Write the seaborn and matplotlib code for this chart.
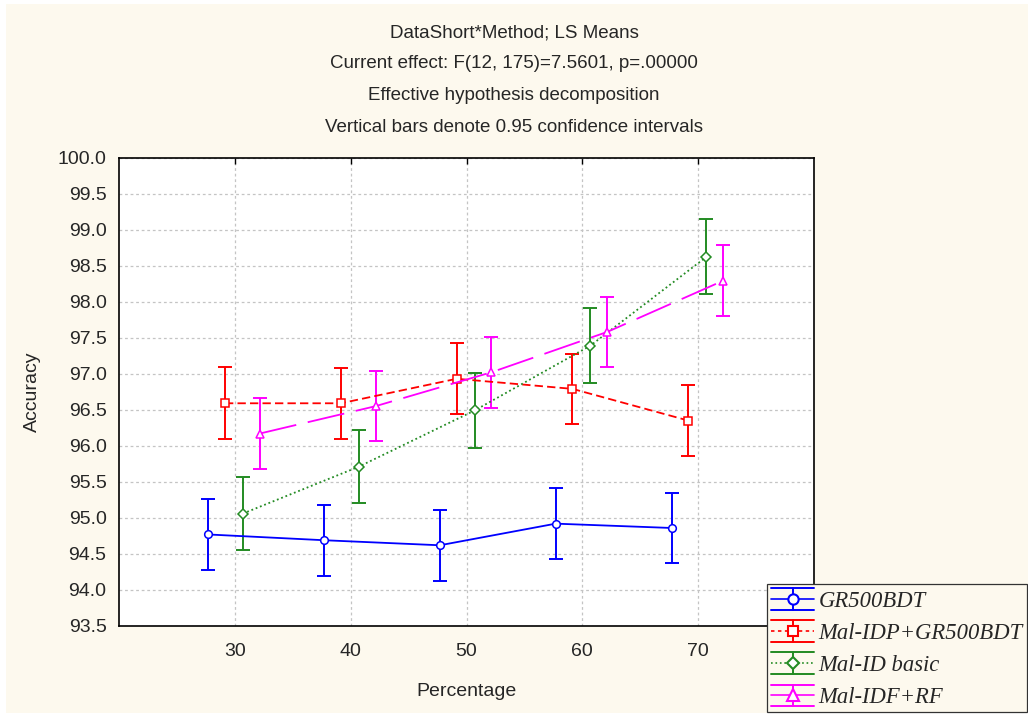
import matplotlib
matplotlib.use("Agg")
import matplotlib.pyplot as plt
import seaborn as sns
import pandas as pd
from matplotlib.patches import Rectangle
from matplotlib.legend_handler import HandlerBase
from matplotlib.lines import Line2D

# ---------------- data ----------------
percentages = [30, 40, 50, 60, 70]
methods = ["GR500BDT", "Mal-IDP+GR500BDT", "Mal-ID basic", "Mal-IDF+RF"]
gr500bdt = [94.77, 94.69, 94.62, 94.92, 94.86]
mal_idp_gr500bdt = [96.59, 96.59, 96.93, 96.79, 96.35]
mal_id_basic = [95.06, 95.71, 96.49, 97.39, 98.62]
mal_idf_rf = [96.17, 96.55, 97.02, 97.58, 98.29]
ci_gr500bdt = [0.49, 0.49, 0.49, 0.49, 0.49]
ci_mal_idp = [0.50, 0.49, 0.49, 0.49, 0.49]
ci_mal_id = [0.51, 0.51, 0.52, 0.52, 0.52]
ci_mal_idf = [0.49, 0.49, 0.49, 0.49, 0.49]
y_ticks = [93.5, 94.0, 94.5, 95.0, 95.5, 96.0, 96.5, 97.0, 97.5, 98.0, 98.5, 99.0, 99.5, 100.0]
title_lines = ["DataShort*Method; LS Means",
               "Current effect: F(12, 175)=7.5601, p=.00000",
               "Effective hypothesis decomposition",
               "Vertical bars denote 0.95 confidence intervals"]

# ---------------- style ----------------
series_vals = [gr500bdt, mal_idp_gr500bdt, mal_id_basic, mal_idf_rf]
series_ci = [ci_gr500bdt, ci_mal_idp, ci_mal_id, ci_mal_idf]
colors = ["#0000FF", "#FF0000", "#238B23", "#FF00FF"]
dodge = [-2.3, -0.85, 0.7, 2.15]
linestyles = ["-", (0, (6, 3)), (0, (1.3, 2.0)), (0, (27, 8.5))]
legend_ls = ["-", (0, (2.5, 2.5)), (0, (1.2, 2.0)), "-"]
markers = ["o", "s", "D", "^"]
msizes = [5.5, 5.2, 4.8, 6.2]

plt.rcParams["lines.scale_dashes"] = False
sns.set_style("white")
plt.rcParams["font.family"] = ["Liberation Sans", "DejaVu Sans"]

W, H = 1028, 715
fig = plt.figure(figsize=(W / 100, H / 100), dpi=100, facecolor="white")
cream = "#FDF9EE"
fig.patches.append(Rectangle((6 / W, 2 / H), 1 - 6 / W, 1 - 6 / H,
                             transform=fig.transFigure, facecolor=cream,
                             edgecolor="none", zorder=-10))

ax = fig.add_axes([119 / W, 1 - 626 / H, (814 - 119) / W, (626 - 157.5) / H])
ax.set_facecolor("white")

rows = []
for m, vals, cis in zip(methods, series_vals, series_ci):
    for p, v, c in zip(percentages, vals, cis):
        rows.append({"Method": m, "Percentage": p, "Accuracy": v, "CI": c})
df = pd.DataFrame(rows)

for i, m in enumerate(methods):
    sub = df[df["Method"] == m].copy()
    sub["xpos"] = sub["Percentage"] + dodge[i]
    ax.errorbar(sub["xpos"], sub["Accuracy"], yerr=sub["CI"], fmt="none",
                ecolor=colors[i], elinewidth=1.4, capsize=4.8, capthick=1.4,
                zorder=3)
    sns.lineplot(data=sub, x="xpos", y="Accuracy", ax=ax, color=colors[i],
                 linestyle=linestyles[i], linewidth=1.3, marker=markers[i],
                 markersize=msizes[i], markerfacecolor="white",
                 markeredgecolor=colors[i], markeredgewidth=1.1,
                 legend=False, zorder=4, errorbar=None)

ax.set_xlim(20, 80)
ax.set_ylim(93.5, 100.0)
ax.set_xticks(percentages)
ax.set_xticklabels([str(p) for p in percentages], fontsize=14)
ax.set_yticks(y_ticks)
ax.set_yticklabels([f"{t:.1f}" for t in y_ticks], fontsize=14)
ax.grid(True, color="#C4C4C4", linestyle=(0, (2, 2)), linewidth=0.9)
for s in ax.spines.values():
    s.set_color("black")
    s.set_linewidth(1.2)
ax.tick_params(axis="x", direction="in", length=4, width=1, color="black",
               pad=12, top=True)
ax.tick_params(axis="y", direction="out", length=3, width=1, color="black", pad=6)
ax.set_xlabel("Percentage", fontsize=14, labelpad=17)
ax.set_ylabel("Accuracy", fontsize=14, labelpad=12)

title_y = [33, 64, 96, 127]
for t, yy in zip(title_lines, title_y):
    fig.text(0.5, 1 - yy / H, t, ha="center", va="center", fontsize=13.5)


class ErrHandler(HandlerBase):
    def __init__(self, ls, **kw):
        super().__init__(**kw)
        self.ls = ls

    def create_artists(self, legend, orig_handle, xdescent, ydescent,
                       width, height, fontsize, trans):
        col = orig_handle.get_color()
        x0, x1 = -xdescent, width - xdescent
        y0, y1 = -ydescent, height - ydescent
        xc, ym = (x0 + x1) / 2, (y0 + y1) / 2
        arts = [
            Line2D([x0, x1], [y1, y1], color=col, lw=1.4),
            Line2D([x0, x1], [y0, y0], color=col, lw=1.4),
            Line2D([xc, xc], [y0, y1], color=col, lw=1.4),
            Line2D([x0, x1], [ym, ym], color=col, lw=1.2, linestyle=self.ls),
            Line2D([xc], [ym], marker=orig_handle.get_marker(),
                   markersize=orig_handle.get_markersize() * 1.35,
                   mfc="white", mec=col, mew=1.5, linestyle="none"),
        ]
        for a in arts:
            a.set_transform(trans)
        return arts


proxies = [Line2D([], [], color=colors[i], marker=markers[i],
                  markersize=msizes[i]) for i in range(4)]
hmap = {p: ErrHandler(legend_ls[i]) for i, p in enumerate(proxies)}
leg = fig.legend(proxies, methods, loc="upper left",
                 bbox_to_anchor=(767 / W, 1 - 584 / H),
                 handler_map=hmap,
                 prop={"family": "Liberation Serif", "style": "italic", "size": 16.3},
                 frameon=True, fancybox=False, framealpha=1,
                 facecolor=cream, edgecolor="#333333",
                 handlelength=1.9, handleheight=1.1, handletextpad=0.2,
                 labelspacing=0.38, borderpad=0.18, borderaxespad=0)
leg.get_frame().set_linewidth(0.9)
leg.set_zorder(20)

fig.savefig("out.png", dpi=100, facecolor=fig.get_facecolor())
